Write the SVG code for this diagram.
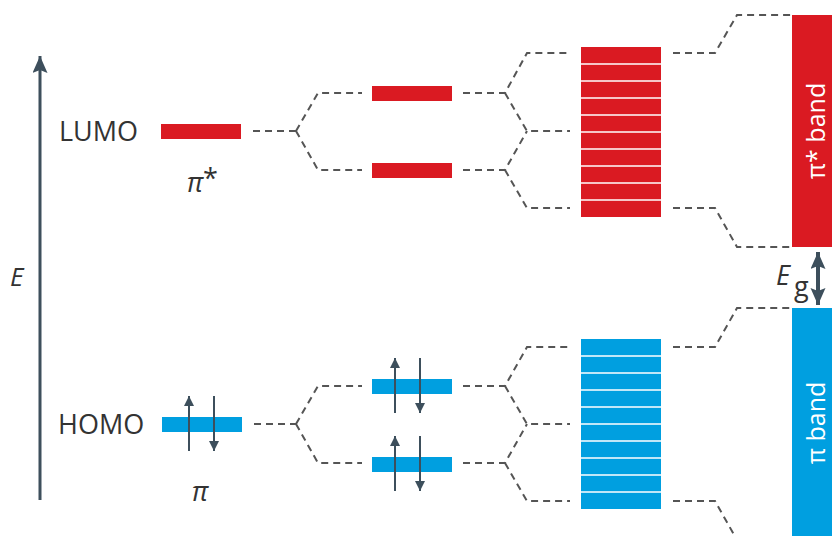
<svg xmlns="http://www.w3.org/2000/svg" width="832" height="536" viewBox="0 0 832 536">
<style>
.lbl{font-family:"Open Sans","Liberation Sans",sans-serif;fill:#333;font-size:27px}
.sym{font-family:"Open Sans","Liberation Sans",sans-serif;fill:#333;font-style:italic}
.band{font-family:"Open Sans","Liberation Sans",sans-serif;fill:#fff;font-size:25px}
.dash{fill:none;stroke:#555;stroke-width:2;stroke-dasharray:7 5}
.red{fill:#DA1A22}
.blue{fill:#009FE0}
.e{stroke:#3d4f5c;stroke-width:2;fill:none;marker-end:url(#ah)}
.sep{stroke:#fff;stroke-width:1.5}
</style>
<defs>
<marker id="ah" markerUnits="userSpaceOnUse" markerWidth="10" markerHeight="12" refX="10" refY="5" orient="auto">
<path d="M0,0 L10,5 L0,10 z" fill="#3d4f5c"/>
</marker>
<marker id="big" markerUnits="userSpaceOnUse" markerWidth="18" markerHeight="16" refX="17" refY="7.5" orient="auto">
<path d="M0,0 L17,7.5 L0,15 L3,7.5 z" fill="#3d4f5c"/>
</marker>
</defs>

<g id="axis">
<line x1="40" y1="500" x2="40" y2="56" stroke="#3d4f5c" stroke-width="3" marker-end="url(#big)"/>
<text class="sym" x="10" y="286" font-size="26">E</text>
</g>

<g id="connectors">
<path class="dash" d="M253,131 H296"/>
<path class="dash" d="M296,131 L318,93 H362"/>
<path class="dash" d="M296,131 L318,170 H362"/>
<path class="dash" d="M463,93 H505 L527,53 H570"/>
<path class="dash" d="M505,93 L527,131 H570"/>
<path class="dash" d="M463,170 H505 L527,131"/>
<path class="dash" d="M505,170 L527,208 H570"/>
<path class="dash" d="M673,53 H715 L737,15 H792"/>
<path class="dash" d="M673,208 H715 L737,247 H792"/>
<path class="dash" d="M254,424 H296"/>
<path class="dash" d="M296,424 L318,386 H362"/>
<path class="dash" d="M296,424 L318,463 H362"/>
<path class="dash" d="M463,386 H505 L527,347 H570"/>
<path class="dash" d="M505,386 L527,424 H570"/>
<path class="dash" d="M463,463 H505 L527,424"/>
<path class="dash" d="M505,463 L527,501 H570"/>
<path class="dash" d="M673,347 H715 L737,308 H792"/>
<path class="dash" d="M673,501 H715 L737,540"/>
</g>

<g id="lumo">
<text class="lbl" x="59" y="141">LUMO</text>
<rect class="red" x="161" y="124" width="80" height="15"/>
<text class="sym" x="187" y="192" font-size="27">π</text>
<text class="lbl" x="203" y="188" font-size="22">*</text>
</g>

<g id="homo">
<text class="lbl" x="58" y="434">HOMO</text>
<rect class="blue" x="162" y="417" width="80" height="15"/>
<line class="e" x1="189" y1="451" x2="189" y2="396"/>
<line class="e" x1="214" y1="396" x2="214" y2="451"/>
<text class="sym" x="192" y="501" font-size="27">π</text>
</g>

<g id="red-pair">
<rect class="red" x="372" y="86" width="80" height="15"/>
<rect class="red" x="372" y="163" width="80" height="15"/>
</g>

<g id="blue-pair">
<rect class="blue" x="372" y="379" width="80" height="15"/>
<rect class="blue" x="372" y="457" width="80" height="15"/>
<line class="e" x1="395" y1="413" x2="395" y2="358"/>
<line class="e" x1="420" y1="358" x2="420" y2="413"/>
<line class="e" x1="395" y1="491" x2="395" y2="436"/>
<line class="e" x1="420" y1="436" x2="420" y2="491"/>
</g>

<g id="red-stack">
<rect class="red" x="581" y="47" width="80" height="170"/>
<path class="sep" d="M581,64 H661 M581,81 H661 M581,98 H661 M581,115 H661 M581,132 H661 M581,149 H661 M581,166 H661 M581,183 H661 M581,200 H661"/>
</g>

<g id="blue-stack">
<rect class="blue" x="581" y="339" width="80" height="170"/>
<path class="sep" d="M581,356 H661 M581,373 H661 M581,390 H661 M581,407 H661 M581,424 H661 M581,441 H661 M581,458 H661 M581,475 H661 M581,492 H661"/>
</g>

<g id="pi-star-band">
<rect class="red" x="792" y="15" width="40" height="232"/>
<text class="band" transform="translate(825,131) rotate(-90)" text-anchor="middle">π* band</text>
</g>

<g id="pi-band">
<rect class="blue" x="792" y="308" width="40" height="228"/>
<text class="band" transform="translate(825,423) rotate(-90)" text-anchor="middle">π band</text>
</g>

<g id="gap">
<line x1="818" y1="278" x2="818" y2="252" stroke="#3d4f5c" stroke-width="4" marker-end="url(#big)"/>
<line x1="818" y1="278" x2="818" y2="305" stroke="#3d4f5c" stroke-width="4" marker-end="url(#big)"/>
<text class="sym" x="776" y="285" font-size="27">E</text>
<text class="lbl" x="794" y="296" font-size="14">g</text>
</g>
</svg>
